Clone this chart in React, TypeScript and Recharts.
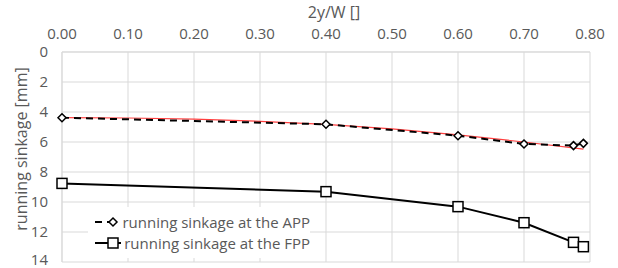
import React from "react";
import { LineChart, Line, XAxis, YAxis, CartesianGrid, Legend } from "recharts";

const xTicks = [0, 0.1, 0.2, 0.3, 0.4, 0.5, 0.6, 0.7, 0.8];
const yTicks = [0, 2, 4, 6, 8, 10, 12, 14];

const appX = [0, 0.4, 0.6, 0.7, 0.775, 0.79];
const appY = [4.38, 4.82, 5.58, 6.13, 6.24, 6.09];

const fppX = [0, 0.4, 0.6, 0.7, 0.775, 0.79];
const fppY = [8.76, 9.31, 10.31, 11.38, 12.69, 12.98];

const trendX = [0, 0.1, 0.2, 0.3, 0.4, 0.5, 0.6, 0.7, 0.79];
const trendY = [4.38, 4.4, 4.48, 4.62, 4.83, 5.12, 5.52, 6.0, 6.48];

const appData = appX.map((x, i) => ({ x, y: appY[i] }));
const fppData = fppX.map((x, i) => ({ x, y: fppY[i] }));
const trendData = trendX.map((x, i) => ({ x, y: trendY[i] }));

const FONT = "'Open Sans', sans-serif";
const GREY = "#595959";

const Diamond = (props: any) => {
  const { cx, cy } = props;
  if (cx == null || cy == null) return null;
  const r = 4;
  return (
    <path
      d={`M${cx},${cy - r} L${cx + r},${cy} L${cx},${cy + r} L${cx - r},${cy} Z`}
      fill="#fff"
      stroke="#000"
      strokeWidth={1.5}
    />
  );
};

const Square = (props: any) => {
  const { cx, cy } = props;
  if (cx == null || cy == null) return null;
  const r = 5;
  return <rect x={cx - r} y={cy - r} width={2 * r} height={2 * r} fill="#fff" stroke="#000" strokeWidth={1.5} />;
};

const LegendContent = () => (
  <div style={{ background: "#fff", fontFamily: FONT, fontSize: 15, color: GREY, padding: "4px 0 4px 6px", whiteSpace: "nowrap" }}>
    <div style={{ display: "flex", alignItems: "center", height: 21.6 }}>
      <svg width={38} height={14} style={{ marginRight: 3 }}>
        <line x1={1} y1={7} x2={37} y2={7} stroke="#000" strokeWidth={2} strokeDasharray="7 5" />
        <path d="M19,3 L23,7 L19,11 L15,7 Z" fill="#fff" stroke="#000" strokeWidth={1.5} />
      </svg>
      <span>running sinkage at the APP</span>
    </div>
    <div style={{ display: "flex", alignItems: "center", height: 21.6 }}>
      <svg width={38} height={14} style={{ marginRight: 3 }}>
        <line x1={1} y1={7} x2={37} y2={7} stroke="#000" strokeWidth={2} />
        <rect x={14} y={2} width={10} height={10} fill="#fff" stroke="#000" strokeWidth={1.5} />
      </svg>
      <span>running sinkage at the FPP</span>
    </div>
  </div>
);

export default function App() {
  return (
    <div style={{ position: "absolute", left: 0, top: 0, width: 618, height: 268, background: "#fff" }}>
      <LineChart width={618} height={268} margin={{ top: 0, right: 28, bottom: 6, left: 0 }}>
        <CartesianGrid stroke="#d9d9d9" strokeWidth={1} />
        <XAxis
          type="number"
          dataKey="x"
          orientation="top"
          domain={[0, 0.8]}
          ticks={xTicks}
          tickFormatter={(v: number) => v.toFixed(2)}
          height={52}
          axisLine={{ stroke: "#d9d9d9" }}
          tickLine={false}
          tickSize={0}
          tickMargin={13}
          tick={{ fill: GREY, fontSize: 15, fontFamily: FONT }}
          allowDuplicatedCategory={false}
          label={{
            content: () => (
              <text x={334} y={18} textAnchor="middle" fill={GREY} fontSize={16} fontFamily={FONT}>
                2y/W []
              </text>
            ),
          }}
        />
        <YAxis
          type="number"
          reversed
          domain={[0, 14]}
          ticks={yTicks}
          width={62}
          axisLine={{ stroke: "#d9d9d9" }}
          tickLine={false}
          tickSize={0}
          tickMargin={14}
          tick={{ fill: GREY, fontSize: 15, fontFamily: FONT }}
          label={{
            content: () => (
              <text x={27} y={149} transform="rotate(-90 27 149)" textAnchor="middle" fill={GREY} fontSize={16} fontFamily={FONT}>
                running sinkage [mm]
              </text>
            ),
          }}
        />
        <Legend
          layout="vertical"
          align="center"
          verticalAlign="middle"
          content={<LegendContent />}
          wrapperStyle={{ left: 88, top: 207, width: 222 }}
        />
        <Line
          data={trendData}
          dataKey="y"
          stroke="#ff0000"
          strokeOpacity={0.75}
          strokeWidth={1.2}
          dot={false}
          activeDot={false}
          isAnimationActive={false}
          legendType="none"
        />
        <Line
          data={appData}
          dataKey="y"
          name="running sinkage at the APP"
          stroke="#000"
          strokeWidth={2}
          strokeDasharray="7 5"
          dot={<Diamond />}
          activeDot={false}
          isAnimationActive={false}
        />
        <Line
          data={fppData}
          dataKey="y"
          name="running sinkage at the FPP"
          stroke="#000"
          strokeWidth={2}
          dot={<Square />}
          activeDot={false}
          isAnimationActive={false}
        />
      </LineChart>
    </div>
  );
}
